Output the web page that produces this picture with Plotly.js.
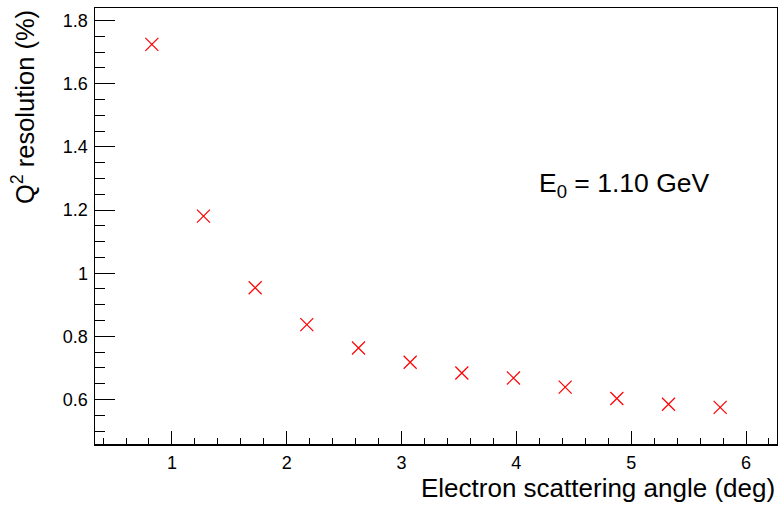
<!DOCTYPE html>
<html>
<head>
<meta charset="utf-8">
<script src="https://cdn.plot.ly/plotly-3.0.1.min.js"></script>
<style>html,body{margin:0;padding:0;background:#fff;}#chart{width:778px;height:508px;}</style>
</head>
<body>
<div id="chart"></div>
<script>
// Data
var angleDeg = [0.825, 1.275, 1.725, 2.175, 2.625, 3.075, 3.525, 3.975, 4.425, 4.875, 5.325, 5.775];
var q2ResolutionPct = [1.725, 1.181, 0.954, 0.837, 0.763, 0.718, 0.684, 0.668, 0.639, 0.603, 0.585, 0.575];
var xTitle = "Electron scattering angle (deg)";
var yTitle = "Q<sup>2</sup> resolution (%)";
var energyLabel = "E<sub>0</sub> = 1.10 GeV";

var FONT = "Liberation Sans, Arial, Helvetica, sans-serif";

var trace = {
  x: angleDeg,
  y: q2ResolutionPct,
  type: "scatter",
  mode: "markers",
  marker: {symbol: "x-thin-open", size: 13, color: "red", line: {color: "red", width: 1.2}},
  showlegend: false,
  hoverinfo: "x+y"
};

var layout = {
  width: 778, height: 508,
  margin: {l: 95, r: 1, t: 8, b: 64},
  paper_bgcolor: "#fff", plot_bgcolor: "#fff",
  font: {family: FONT, color: "#000", size: 18},
  xaxis: {
    range: [0.330, 6.270],
    dtick: 1, tick0: 0,
    ticks: "inside", ticklen: 13, tickwidth: 1, tickcolor: "#000",
    minor: {dtick: 0.2, tick0: 0, ticks: "inside", ticklen: 6, tickwidth: 1, tickcolor: "#000", showgrid: false},
    showline: true, linecolor: "#000", linewidth: 1.5, mirror: true,
    showgrid: false, zeroline: false,
    tickfont: {family: FONT, size: 18, color: "#000"},
    ticklabelstandoff: 2
  },
  yaxis: {
    range: [0.459, 1.840],
    dtick: 0.2, tick0: 0,
    ticks: "inside", ticklen: 20, tickwidth: 1, tickcolor: "#000",
    minor: {dtick: 0.05, tick0: 0, ticks: "inside", ticklen: 10, tickwidth: 1, tickcolor: "#000", showgrid: false},
    showline: true, linecolor: "#000", linewidth: 1.5, mirror: true,
    showgrid: false, zeroline: false,
    tickfont: {family: FONT, size: 18, color: "#000"},
    ticklabelstandoff: 2
  },
  annotations: [
    {text: xTitle, xref: "paper", yref: "paper", x: 1.0, y: -0.061, xanchor: "right", yanchor: "top",
     showarrow: false, font: {family: FONT, size: 26, color: "#000"}},
    {text: yTitle, xref: "paper", yref: "paper", x: -0.079, y: 1.0, xanchor: "right", yanchor: "top",
     textangle: -90, showarrow: false, font: {family: FONT, size: 25.5, color: "#000"}},
    {text: energyLabel, xref: "paper", yref: "paper", x: 0.648, y: 0.595, xanchor: "left", yanchor: "middle",
     showarrow: false, font: {family: FONT, size: 26.5, color: "#000"}}
  ]
};

Plotly.newPlot("chart", [trace], layout, {displayModeBar: false, staticPlot: true});
</script>
</body>
</html>
